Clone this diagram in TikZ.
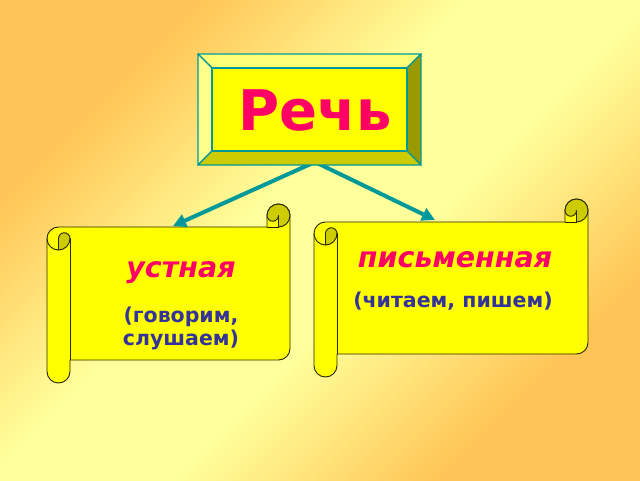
\documentclass[tikz,border=0pt]{standalone}
\usepackage{fontspec}
\setmainfont{DejaVu Sans}
\usetikzlibrary{arrows.meta}

\definecolor{bgorange}{RGB}{255,196,85}
\definecolor{bglight}{RGB}{255,255,155}
\definecolor{bevellight}{RGB}{255,255,140}
\definecolor{beveltop}{RGB}{255,255,120}
\definecolor{bevelright}{RGB}{153,153,0}
\definecolor{bevelbottom}{RGB}{204,204,0}
\definecolor{teal}{RGB}{0,153,153}
\definecolor{rose}{RGB}{255,0,102}
\definecolor{ink}{RGB}{51,51,153}
\definecolor{paper}{RGB}{255,255,0}
\definecolor{curl}{RGB}{204,204,0}
\definecolor{edge}{RGB}{40,40,0}

\pgfdeclarehorizontalshading{backdrop}{100bp}{color(0bp)=(bgorange); color(27bp)=(bgorange);
  color(44bp)=(bglight); color(56bp)=(bglight); color(73bp)=(bgorange); color(100bp)=(bgorange)}

\tikzset{
  scrollbody/.style={fill=paper, draw=edge, line width=0.9pt, line join=round},
  scrollcurl/.style={fill=curl, draw=edge, line width=0.9pt, line join=round},
  scrolledge/.style={draw=edge, line width=0.9pt},
  bevel/.style={draw=teal, line width=1.4pt, line join=round},
  link/.style={->, draw=teal, line width=4pt},
  title/.style={text=rose, font=\fontsize{56}{60}\selectfont\bfseries},
  kind/.style={text=rose, font=\fontsize{28.5}{32}\selectfont\bfseries\itshape},
  note/.style={text=ink, align=center, font=\fontsize{20.5}{23}\selectfont\bfseries},
}

% scroll: left, bottom, width, height (roll size 23)
\newcommand{\drawscroll}[4]{%
  \begin{scope}[shift={(#1,#2)}]
    \filldraw[scrollbody] (0,{#4-34.5}) arc[start angle=180,end angle=90,radius=11.5]
      -- ({#3-23},{#4-23}) -- ({#3-23},{#4-11.5})
      arc[start angle=180,end angle=0,radius=11.5]
      -- (#3,34.5) arc[start angle=0,end angle=-90,radius=11.5]
      -- (23,23) -- (23,11.5) arc[start angle=0,end angle=-180,radius=11.5] -- cycle;
    \filldraw[scrollcurl] (11.5,{#4-46}) arc[start angle=-90,end angle=0,radius=11.5]
      arc[start angle=0,end angle=180,radius=5.75] -- cycle;
    \filldraw[scrollcurl] ({#3-11.5},{#4-23}) arc[start angle=-90,end angle=180,radius=11.5]
      arc[start angle=180,end angle=360,radius=5.75] -- cycle;
    \draw[scrolledge] ({#3-23},{#4-23}) -- ({#3-11.5},{#4-23});
    \draw[scrolledge] (0,{#4-34.5}) arc[start angle=180,end angle=270,radius=11.5];
    \draw[scrolledge] (23,{#4-34.5}) -- (23,23);
  \end{scope}}

\begin{document}
\begin{tikzpicture}[x=1pt,y=1pt,>={Triangle[length=13pt,width=13pt]}]
\useasboundingbox (0,0) rectangle (640,480);
\shade[shading=backdrop, shading angle=-45] (0,0) rectangle (640,480);

% scrolls
\drawscroll{47}{97}{243}{179}
\drawscroll{314}{103}{274}{178}

% arrow ends
\coordinate (fork) at (315,318);
\coordinate (oraltip) at (173,254);
\coordinate (writtentip) at (435,260);
\draw[link] (fork) -- (oraltip);
\draw[link] (fork) -- (writtentip);

% bevelled title box
\filldraw[bevel, fill=beveltop] (198,426) -- (421,426) -- (407,412) -- (212,412) -- cycle;
\filldraw[bevel, fill=bevellight] (198,426) -- (212,412) -- (212,329) -- (198,315) -- cycle;
\filldraw[bevel, fill=bevelright] (421,426) -- (421,315) -- (407,329) -- (407,412) -- cycle;
\filldraw[bevel, fill=bevelbottom] (198,315) -- (212,329) -- (407,329) -- (421,315) -- cycle;
\filldraw[bevel, fill=paper] (212,329) rectangle (407,412);

\node[title, anchor=base] (speech) at (315,349) {Речь};
\node[kind, anchor=base] (oral) at (181,203) {устная};
\node[note] (oralnote) at (181,152) {(говорим,\\слушаем)};
\node[kind, anchor=base] (written) at (455,213) {письменная};
\node[note, anchor=base] (writtennote) at (453,173) {(читаем, пишем)};
\end{tikzpicture}
\end{document}
